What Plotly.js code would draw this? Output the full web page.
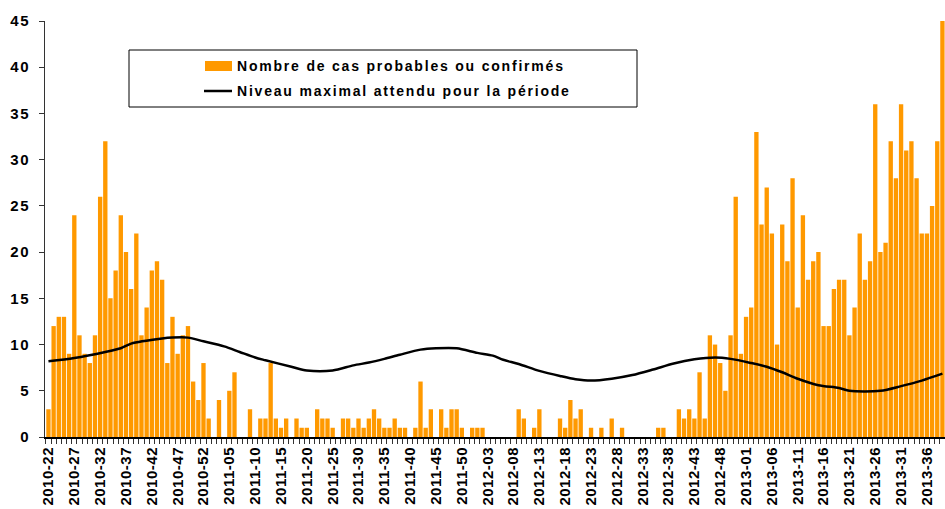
<!DOCTYPE html>
<html>
<head>
<meta charset="utf-8">
<script src="https://cdn.plot.ly/plotly-3.0.1.min.js"></script>
<style>
  body { margin: 0; background: #fff; }
  #chart { width: 945px; height: 509px; }
</style>
</head>
<body>
<div id="chart"></div>
<script>
// weekly counts, one array per year
const counts2010 = [3, 12, 13, 13, 9, 24, 11, 9, 8, 11, 26, 32, 15, 18, 24, 20, 16, 22, 11, 14,
    18, 19, 17, 8, 13, 9, 11, 12, 6, 4, 8]                       // weeks 22..52
const counts2011 = [2, 0, 4, 0, 5, 7, 0, 0, 3, 0, 2, 2, 8, 2, 1, 2, 0, 2, 1, 1,
    0, 3, 2, 2, 1, 0, 2, 2, 1, 2, 1, 2, 3, 2, 1, 1, 2, 1, 1, 0,
    1, 6, 1, 3, 0, 3, 1, 3, 3, 1, 0, 1]                           // weeks 1..52
const counts2012 = [1, 1, 0, 0, 0, 0, 0, 0, 3, 2, 0, 1, 3, 0, 0, 0, 2, 1, 4, 2,
    3, 0, 1, 0, 1, 0, 2, 0, 1, 0, 0, 0, 0, 0, 0, 1, 1, 0, 0, 3,
    2, 3, 2, 7, 2, 11, 10, 8, 5, 11, 26, 9]                       // weeks 1..52
const counts2013 = [13, 14, 33, 23, 27, 22, 10, 23, 19, 28, 14, 24, 17, 19, 20, 12, 12, 16, 17, 17,
    11, 14, 22, 17, 19, 36, 20, 21, 32, 28, 36, 31, 32, 28, 22, 22, 25, 32, 45] // weeks 1..39

// expected maximum level, read at some weeks
const levelWeeks = ['2010-22', '2010-27', '2010-33', '2010-36', '2010-38', '2010-44', '2010-46', '2010-49',
    '2010-52', '2011-04', '2011-07', '2011-10', '2011-12', '2011-17', '2011-20', '2011-25', '2011-29',
    '2011-32', '2011-35', '2011-38', '2011-42', '2011-45', '2011-49', '2012-01', '2012-04', '2012-06',
    '2012-09', '2012-13', '2012-17', '2012-20', '2012-23', '2012-27', '2012-31', '2012-35', '2012-39',
    '2012-43', '2012-47', '2012-50', '2013-02', '2013-05', '2013-08', '2013-11', '2013-15', '2013-19',
    '2013-21', '2013-27', '2013-31', '2013-35', '2013-39']
const levelValues = [8.2, 8.55, 9.2, 9.6, 10.1, 10.65, 10.75, 10.75,
    10.35, 9.8, 9.2, 8.6, 8.3, 7.6, 7.2, 7.2, 7.75,
    8.05, 8.45, 8.9, 9.45, 9.6, 9.6, 9.1, 8.8, 8.35,
    7.9, 7.15, 6.6, 6.25, 6.1, 6.3, 6.7, 7.3, 7.95,
    8.4, 8.6, 8.45, 8.0, 7.6, 7.0, 6.3, 5.6, 5.3,
    5.0, 5.0, 5.5, 6.1, 6.85]

const yTicks = [0, 5, 10, 15, 20, 25, 30, 35, 40, 45]

const years = [[2010, 22, counts2010], [2011, 1, counts2011], [2012, 1, counts2012], [2013, 1, counts2013]]

const weeks = []
const counts = []
years.forEach(([yr, first, vals]) => {
    vals.forEach((v, i) => {
        weeks.push(yr + '-' + String(first + i).padStart(2, '0'))
        counts.push(v)
    })
})

// the original text is drawn a bit wider than plain Arial
const spaced = (s, sp) => '<span style="letter-spacing:' + sp + 'px">' + s + '</span>'
const tickText = weeks.map((w, i) => i % 5 === 0 ? spaced(w, 0.5) : '')

// plot area in pixels: x 45..945, y 21..437
const px = x => (x - 45) / 900
const py = y => (437 - y) / 416

const bold = { family: 'Arial, Liberation Sans, sans-serif', color: '#000', weight: 'bold' }

const traces = [
    {
        type: 'bar',
        x: weeks,
        y: counts,
        marker: { color: '#FF9900', line: { width: 0 } },
        hoverinfo: 'x+y'
    },
    {
        type: 'scatter',
        mode: 'lines',
        x: levelWeeks,
        y: levelValues,
        line: { color: '#000', width: 2.5, shape: 'spline', smoothing: 0.8 }
    }
]

const layout = {
    width: 945,
    height: 509,
    margin: { l: 45, r: 0, t: 21, b: 72 },
    paper_bgcolor: '#fff',
    plot_bgcolor: '#fff',
    showlegend: false,
    bargap: 0.16,
    xaxis: {
        type: 'category',
        categoryorder: 'array',
        categoryarray: weeks,
        range: [-0.67, 173.5],
        tickmode: 'array',
        tickvals: weeks,
        ticktext: tickText,
        tickson: 'boundaries',
        ticks: 'outside',
        ticklen: 5,
        tickcolor: '#333',
        tickwidth: 1,
        tickangle: -90,
        ticklabelstandoff: 2,
        tickfont: { ...bold, size: 15 },
        showline: true,
        linecolor: '#000',
        linewidth: 2,
        showgrid: false,
        zeroline: false
    },
    yaxis: {
        range: [0, 45],
        tickmode: 'array',
        tickvals: yTicks,
        ticktext: yTicks.map(v => spaced(v, 1.8)),
        ticks: 'outside',
        ticklen: 5,
        tickcolor: '#333',
        ticklabelstandoff: 5,
        tickfont: { ...bold, size: 15 },
        showline: true,
        linecolor: '#333',
        linewidth: 1.5,
        showgrid: false,
        zeroline: false
    },
    shapes: [
        { type: 'rect', xref: 'paper', yref: 'paper', x0: px(129), x1: px(637), y0: py(107), y1: py(50),
          line: { color: '#000', width: 1 }, fillcolor: '#fff' },
        { type: 'rect', xref: 'paper', yref: 'paper', x0: px(205), x1: px(232), y0: py(71), y1: py(61),
          line: { width: 0 }, fillcolor: '#FF9900' },
        { type: 'line', xref: 'paper', yref: 'paper', x0: px(204), x1: px(232), y0: py(91), y1: py(91),
          line: { color: '#000', width: 2.5 } }
    ],
    annotations: [
        { xref: 'paper', yref: 'paper', x: px(235), y: py(66), xanchor: 'left', yanchor: 'middle',
          text: spaced('Nombre de cas probables ou confirmés', 1.8), showarrow: false, font: { ...bold, size: 14 } },
        { xref: 'paper', yref: 'paper', x: px(235), y: py(91), xanchor: 'left', yanchor: 'middle',
          text: spaced('Niveau maximal attendu pour la période', 1.8), showarrow: false, font: { ...bold, size: 14 } }
    ]
}

Plotly.newPlot('chart', traces, layout, { displayModeBar: false, staticPlot: true })
</script>
</body>
</html>
